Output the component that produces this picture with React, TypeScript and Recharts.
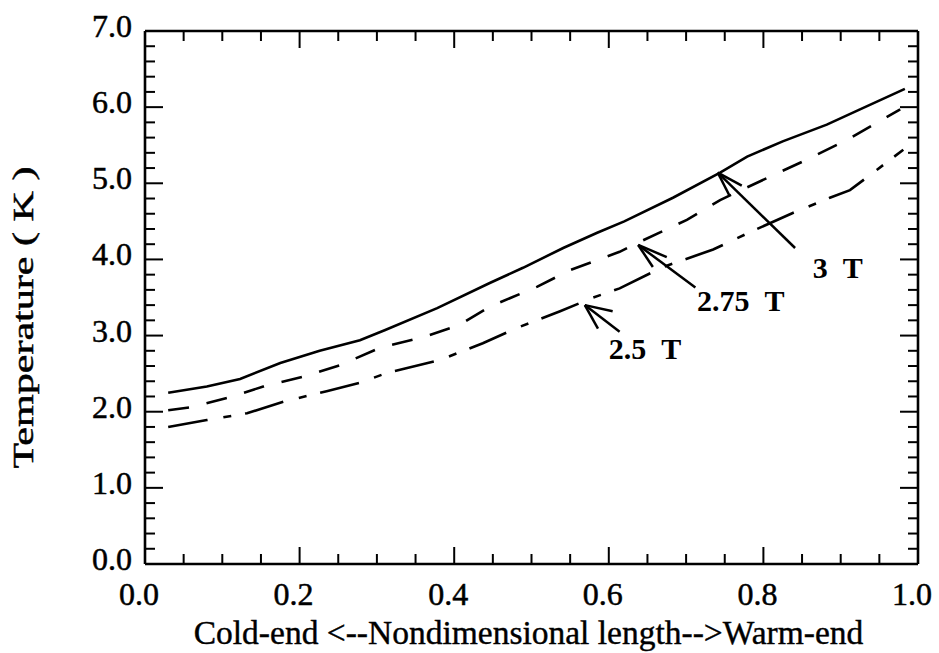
import React from "react";
import { LineChart, Line, XAxis, YAxis, ReferenceLine, ReferenceDot, Label } from "recharts";

// tick positions: small ticks everywhere, labels only on the majors
const xMinorTicks = [0, 0.05, 0.1, 0.15, 0.2, 0.25, 0.3, 0.35, 0.4, 0.45, 0.5, 0.55, 0.6, 0.65, 0.7, 0.75, 0.8, 0.85, 0.9, 0.95, 1.0];
const xMajorTicks = [0, 0.2, 0.4, 0.6, 0.8, 1.0];
const yMinorTicks = [0, 0.2, 0.4, 0.6, 0.8, 1, 1.2, 1.4, 1.6, 1.8, 2, 2.2, 2.4, 2.6, 2.8, 3, 3.2, 3.4, 3.6, 3.8, 4, 4.2, 4.4, 4.6, 4.8, 5, 5.2, 5.4, 5.6, 5.8, 6, 6.2, 6.4, 6.6, 6.8, 7];
const yMajorTicks = [0, 1, 2, 3, 4, 5, 6, 7];

// 3 T (solid)
const x3T = [0.03, 0.08, 0.123, 0.175, 0.226, 0.278, 0.31, 0.378, 0.446, 0.489, 0.541, 0.585, 0.62, 0.683, 0.744, 0.779, 0.825, 0.882, 0.925, 0.983];
const t3T = [2.25, 2.33, 2.43, 2.64, 2.8, 2.94, 3.07, 3.36, 3.69, 3.89, 4.15, 4.35, 4.5, 4.81, 5.14, 5.35, 5.55, 5.77, 5.97, 6.24];

// 2.75 T (dashed)
const x275T = [0.03, 0.06, 0.106, 0.153, 0.204, 0.252, 0.304, 0.36, 0.407, 0.446, 0.507, 0.55, 0.614, 0.64, 0.701, 0.744, 0.805, 0.856, 0.908, 0.977];
const t275T = [2.02, 2.06, 2.18, 2.33, 2.46, 2.61, 2.84, 2.98, 3.14, 3.38, 3.64, 3.86, 4.1, 4.23, 4.52, 4.78, 5.07, 5.31, 5.57, 5.97];

// 2.5 T (dash-dot)
const x25T = [0.03, 0.08, 0.132, 0.179, 0.235, 0.278, 0.313, 0.382, 0.437, 0.481, 0.537, 0.58, 0.614, 0.67, 0.735, 0.783, 0.838, 0.886, 0.912, 0.942, 0.981];
const t25T = [1.8, 1.89, 1.98, 2.13, 2.27, 2.38, 2.51, 2.68, 2.9, 3.1, 3.32, 3.5, 3.62, 3.9, 4.13, 4.36, 4.61, 4.81, 4.91, 5.14, 5.44];

// annotation labels and arrows, in data units
const labels = [
  { text: "3\u00a0\u00a0T", x: 0.864, t: 3.76 },
  { text: "2.75\u00a0\u00a0T", x: 0.714, t: 3.32 },
  { text: "2.5\u00a0\u00a0T", x: 0.6, t: 2.69 },
];
const arrows = [
  { tip: [0.741, 5.14], tail: [0.841, 4.15], w1: [0.772, 4.97], w2: [0.756, 4.84] },
  { tip: [0.638, 4.19], tail: [0.712, 3.63], w1: [0.675, 4.03], w2: [0.657, 3.9] },
  { tip: [0.569, 3.4], tail: [0.614, 3.05], w1: [0.605, 3.32], w2: [0.586, 3.09] },
];

const toRows = (xs: number[], ts: number[]) => xs.map((x, i) => ({ x, t: ts[i] }));
const data3T = toRows(x3T, t3T);
const data275T = toRows(x275T, t275T);
const data25T = toRows(x25T, t25T);

const FONT = "'Liberation Serif', 'Times New Roman', serif";
const INK = { fill: "#000", stroke: "#000", strokeWidth: 0.5 };
const frame = { stroke: "#000", strokeWidth: 2.6 };

// plot box is 773 x 533 px for 1.0 x 7 K, so tick lengths in data units
const X_UNIT_PX = 773;
const T_UNIT_PX = 533 / 7;
const xTickLen = (v: number) => (xMajorTicks.includes(v) ? 17 : 10) / T_UNIT_PX;
const yTickLen = (v: number) => (yMajorTicks.includes(v) ? 18 : 10) / X_UNIT_PX;

const BottomLabel = ({ x, y, payload }: any) => (
  <text x={x - 6} y={y + 41} textAnchor="middle" fontSize={32} fontFamily={FONT} {...INK}>
    {payload.value.toFixed(1)}
  </text>
);

const LeftLabel = ({ x, y, payload }: any) => (
  <text x={x - 13} y={y + 6} textAnchor="end" fontSize={32} fontFamily={FONT} {...INK}>
    {payload.value.toFixed(1)}
  </text>
);

export default function App() {
  const seg = (a: number[], b: number[], key: string, w = 2.5) => (
    <ReferenceLine
      key={key}
      xAxisId="b"
      yAxisId="l"
      segment={[{ x: a[0], y: a[1] }, { x: b[0], y: b[1] }]}
      stroke="#000"
      strokeWidth={w}
    />
  );

  const common = { type: "number" as const, interval: 0 as const, tickMargin: 0, tickSize: 0, allowDataOverflow: true };

  return (
    <div style={{ position: "absolute", left: 0, top: 0, width: 939, height: 653, background: "#fff" }}>
      <LineChart width={939} height={653} margin={{ top: 21, right: 11, bottom: 29, left: 45 }}>
        <XAxis
          xAxisId="b"
          {...common}
          dataKey="x"
          domain={[0, 1]}
          ticks={xMajorTicks}
          height={60}
          tickLine={false}
          tick={<BottomLabel />}
          axisLine={frame}
        >
          <Label
            content={({ viewBox }: any) => (
              <text
                x={viewBox.x + viewBox.width / 2 - 3}
                y={viewBox.y + 80}
                textAnchor="middle"
                fontSize={33.5}
                fontFamily={FONT}
                {...INK}
                strokeWidth={0.4}
              >
                Cold-end &lt;--Nondimensional length--&gt;Warm-end
              </text>
            )}
          />
        </XAxis>
        <XAxis xAxisId="t" orientation="top" {...common} domain={[0, 1]} ticks={xMajorTicks} height={10} tickLine={false} tick={false} axisLine={frame} />
        <YAxis
          yAxisId="l"
          {...common}
          domain={[0, 7]}
          ticks={yMajorTicks}
          width={100}
          tickLine={false}
          tick={<LeftLabel />}
          axisLine={frame}
        >
          <Label
            content={({ viewBox }: any) => {
              const cx = viewBox.x - 12;
              const cy = viewBox.y + viewBox.height / 2 + 20;
              return (
                <text
                  x={cx}
                  y={cy}
                  transform={`rotate(-90 ${cx} ${cy})`}
                  textAnchor="middle"
                  fontSize={30}
                  fontFamily={FONT}
                  {...INK}
                  textLength={302}
                  lengthAdjust="spacingAndGlyphs"
                >
                  Temperature ( K )
                </text>
              );
            }}
          />
        </YAxis>
        <YAxis yAxisId="r" orientation="right" {...common} domain={[0, 7]} ticks={yMajorTicks} width={10} tickLine={false} tick={false} axisLine={frame} />

        {/* inward ticks on all four sides */}
        {xMinorTicks.map((v) => [
          seg([v, 0], [v, xTickLen(v)], `xb${v}`, 2),
          seg([v, 7], [v, 7 - xTickLen(v)], `xt${v}`, 2),
        ])}
        {yMinorTicks.map((v) => [
          seg([0, v], [yTickLen(v), v], `yl${v}`, 2),
          seg([1, v], [1 - yTickLen(v), v], `yr${v}`, 2),
        ])}

        <Line xAxisId="b" yAxisId="l" data={data3T} dataKey="t" type="linear" stroke="#000" strokeWidth={2.6} dot={false} isAnimationActive={false} />
        <Line xAxisId="b" yAxisId="l" data={data275T} dataKey="t" type="linear" stroke="#000" strokeWidth={2.6} strokeDasharray="21 18" dot={false} isAnimationActive={false} />
        <Line xAxisId="b" yAxisId="l" data={data25T} dataKey="t" type="linear" stroke="#000" strokeWidth={2.6} strokeDasharray="40 16 8 14" dot={false} isAnimationActive={false} />

        {arrows.map((a, i) => [
          seg(a.tail, a.tip, `s${i}`),
          seg(a.tip, a.w1, `a${i}`),
          seg(a.tip, a.w2, `b${i}`),
        ])}

        {labels.map((l, i) => (
          <ReferenceDot
            key={`l${i}`}
            xAxisId="b"
            yAxisId="l"
            x={l.x}
            y={l.t}
            r={0}
            fill="none"
            stroke="none"
            label={{
              content: ({ viewBox }: any) => (
                <text x={viewBox.x} y={viewBox.y} fontSize={30} fontWeight="bold" fontFamily={FONT} fill="#000">
                  {l.text}
                </text>
              ),
            }}
          />
        ))}
      </LineChart>
    </div>
  );
}
